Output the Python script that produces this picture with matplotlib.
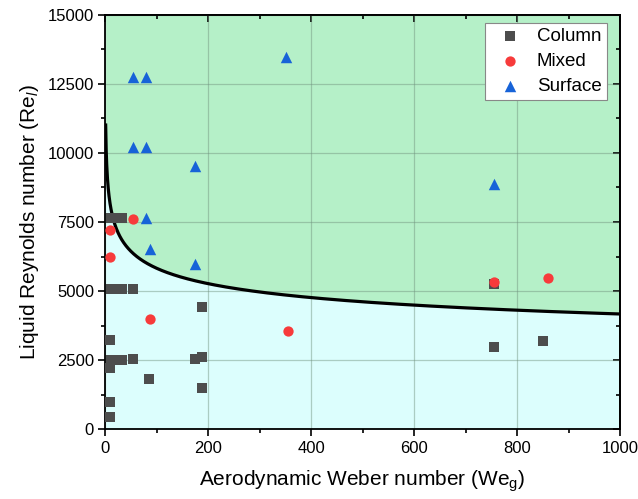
import numpy as np
import matplotlib
matplotlib.use("Agg")
import matplotlib.pyplot as plt
from matplotlib.ticker import MultipleLocator

# ---- data ----
column_we = [9, 9, 9, 9, 12, 22, 33, 12, 22, 33, 55, 12, 22, 33, 55,
             86, 175, 188, 188, 188, 755, 755, 851]
column_re = [3240, 2240, 980, 440, 7640, 7640, 7640, 5070, 5070, 5070, 5070,
             2510, 2510, 2510, 2540, 1810, 2550, 2610, 4440, 1490, 5260, 2990, 3200]

mixed_we = [9, 9, 55, 87, 356, 755, 860]
mixed_re = [7200, 6250, 7620, 3990, 3570, 5330, 5470]

surface_we = [55, 79, 351, 55, 79, 175, 79, 87, 175, 756]
surface_re = [12750, 12750, 13480, 10220, 10220, 9530, 7640, 6530, 5980, 8870]

# regime boundary correlation  Re = C * We^n
boundary_coef = 11370
boundary_exp = -0.145
boundary_we_min = 1.25
boundary_we_max = 1000

x_ticks = [0, 200, 400, 600, 800, 1000]
y_ticks = [0, 2500, 5000, 7500, 10000, 12500, 15000]

plt.rcParams['font.family'] = ['Liberation Sans', 'DejaVu Sans']
plt.rcParams['mathtext.fontset'] = 'custom'
plt.rcParams['mathtext.rm'] = 'Liberation Sans'
plt.rcParams['mathtext.it'] = 'Liberation Sans:italic'

fig = plt.figure(figsize=(6.38, 4.99), dpi=100)
ax = fig.add_axes([0.1646, 0.1393, 0.8072, 0.8314])

we_curve = np.linspace(boundary_we_min, boundary_we_max, 2000)
re_curve = boundary_coef * we_curve ** boundary_exp

ax.fill_between(we_curve, re_curve, 15000, color='#b5f0c8', lw=0, zorder=0)
ax.fill_between(we_curve, 0, re_curve, color='#dcfefd', lw=0, zorder=0)
ax.fill_between([0, boundary_we_min], 0, 15000, color='#dcfefd', lw=0, zorder=0)

ax.grid(True, which='major', color='#6e8f7c', alpha=0.45, lw=0.9, zorder=1)
ax.set_axisbelow(True)

ax.plot(we_curve, re_curve, color='black', lw=2.3, zorder=3)

ax.scatter(column_we, column_re, marker='s', s=42, color='#4d4d4d', lw=0,
           zorder=4, label='Column')
ax.scatter(mixed_we, mixed_re, marker='o', s=55, color='#f73b3b', lw=0,
           zorder=5, label='Mixed')
ax.scatter(surface_we, surface_re, marker='^', s=68, color='#1763d8', lw=0,
           zorder=5, label='Surface')

ax.set_xlim(0, 1000)
ax.set_ylim(0, 15000)
ax.set_xticks(x_ticks)
ax.set_yticks(y_ticks)
ax.xaxis.set_minor_locator(MultipleLocator(100))
ax.yaxis.set_minor_locator(MultipleLocator(1250))

ax.tick_params(axis='both', which='major', direction='out', length=5, width=1.2,
               labelsize=12, colors='black', pad=3)
ax.tick_params(axis='both', which='minor', direction='out', length=3, width=1.2)

ax2 = ax.secondary_xaxis('top')
ax2.set_xticks(x_ticks)
ax2.xaxis.set_minor_locator(MultipleLocator(100))
ax2.tick_params(which='major', direction='in', length=5, width=1.2, labeltop=False)
ax2.tick_params(which='minor', direction='in', length=3, width=1.2)
ax3 = ax.secondary_yaxis('right')
ax3.set_yticks(y_ticks)
ax3.yaxis.set_minor_locator(MultipleLocator(1250))
ax3.tick_params(which='major', direction='in', length=5, width=1.2, labelright=False)
ax3.tick_params(which='minor', direction='in', length=3, width=1.2)
for a in (ax2, ax3):
    for sp in a.spines.values():
        sp.set_linewidth(1.3)

for sp in ax.spines.values():
    sp.set_linewidth(1.3)

ax.set_xlabel('Aerodynamic Weber number (We$_\\mathregular{g}$)', fontsize=15, labelpad=9)
ax.set_ylabel('Liquid Reynolds number (Re$_l$)', fontsize=15, labelpad=5)

leg = ax.legend(loc='upper right', bbox_to_anchor=(0.982, 0.99), fontsize=13.5,
                frameon=True, fancybox=False, framealpha=1, edgecolor='#888888',
                handletextpad=0.4, borderpad=0.28, labelspacing=0.42,
                handlelength=2.1, borderaxespad=0.2)
leg.get_frame().set_linewidth(0.8)

fig.savefig('out.png', dpi=100)
